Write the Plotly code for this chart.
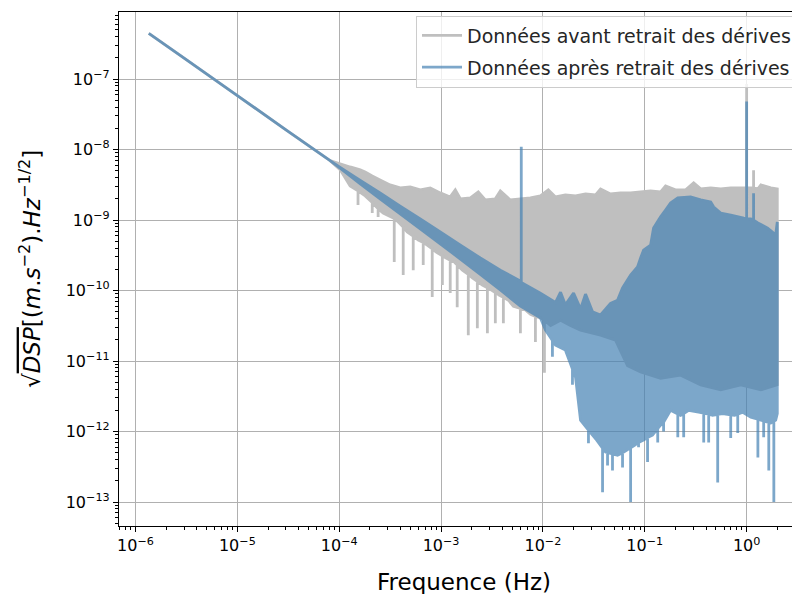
import plotly.graph_objects as go

# ---------------------------------------------------------------
# Valeurs (fréquence en Hz, racine de DSP)
# ---------------------------------------------------------------

# partie basse fréquence en 1/f, commune aux deux séries
freq_bf = [1.35e-6, 3e-6, 1e-5, 3e-5, 8.14e-5]
asd_bf = [4.45e-7, 1.98e-7, 5.83e-8, 1.91e-8, 6.98e-9]

# --- avant retrait des dérives (gris)
gris_haut_f = [1.02e-4, 1.28e-4, 1.61e-4, 1.80e-4, 2.11e-4, 2.52e-4, 3.16e-4, 3.97e-4,
               4.98e-4, 6.25e-4, 7.83e-4, 9.82e-4, 1.23e-3, 1.38e-3, 1.55e-3, 1.94e-3,
               2.32e-3, 2.72e-3, 3.41e-3, 3.82e-3, 4.79e-3, 6.01e-3, 7.54e-3, 9.45e-3,
               1.13e-2, 1.33e-2, 1.66e-2, 2.09e-2, 2.62e-2, 3.29e-2, 3.68e-2, 4.61e-2,
               5.78e-2, 7.26e-2, 9.10e-2, 0.114, 0.143, 0.160, 0.200, 0.252, 0.302,
               0.354, 0.444, 0.557, 0.698, 0.938, 1.10, 1.29, 1.38, 1.73, 2.0]
gris_haut = [6.3e-9, 5.67e-9, 5.15e-9, 4.82e-9, 4.23e-9, 3.71e-9, 3.15e-9, 2.86e-9,
             2.95e-9, 2.68e-9, 2.86e-9, 2.43e-9, 2.13e-9, 2.68e-9, 2.0e-9, 2.06e-9,
             2.51e-9, 1.93e-9, 2.0e-9, 2.59e-9, 1.93e-9, 2.0e-9, 2.06e-9, 2.2e-9,
             2.68e-9, 2.13e-9, 2.28e-9, 2.2e-9, 2.35e-9, 2.28e-9, 2.77e-9, 2.35e-9,
             2.43e-9, 2.43e-9, 2.51e-9, 2.59e-9, 2.51e-9, 3.05e-9, 2.68e-9, 2.68e-9, 3.37e-9,
             2.77e-9, 2.86e-9, 2.77e-9, 2.86e-9, 2.86e-9, 2.86e-9, 2.77e-9, 3.15e-9, 2.86e-9, 2.77e-9]
gris_bas_f = [1.02e-4, 1.28e-4, 1.80e-4, 2.70e-4, 3.80e-4, 4.65e-4, 5.97e-4, 7.31e-4,
              8.97e-4, 1.12e-3, 1.35e-3, 1.62e-3, 2.03e-3, 2.54e-3, 3.12e-3, 3.74e-3,
              4.58e-3, 5.13e-3, 6.73e-3, 7.54e-3, 9.45e-3, 1.19e-2, 1.49e-2, 1.86e-2,
              2.34e-2, 3.68e-2, 5.16e-2, 6.77e-2, 9.10e-2, 0.143, 0.225, 0.354, 0.557,
              0.876, 1.38, 2.0]
gris_bas = [5.2e-9, 3.05e-9, 2.2e-9, 1.26e-9, 9.4e-10, 6.8e-10, 5.2e-10, 4.4e-10,
            3.52e-10, 2.9e-10, 2.54e-10, 1.95e-10, 1.51e-10, 1.2e-10, 1.02e-10, 8.6e-11,
            7.3e-11, 6.0e-11, 5.3e-11, 4.6e-11, 4.1e-11, 3.2e-11, 3.8e-11, 3.2e-11,
            2.75e-11, 2.33e-11, 1.98e-11, 8.6e-12, 7.0e-12, 5.7e-12, 6.3e-12, 4.6e-12, 3.9e-12,
            4.6e-12, 3.9e-12, 4.6e-12]
# raies vers le haut
gris_raies_f = [1.0, 1.17]
gris_raies_base = [2.86e-9, 2.86e-9]
gris_raies_sommet = [8.5e-8, 5.1e-9]
# pics vers le bas
gris_pics_f = [1.53e-4, 2.11e-4, 2.41e-4, 3.47e-4, 4.25e-4, 5.33e-4, 6.68e-4, 8.19e-4,
               1.03e-3, 1.23e-3, 1.44e-3, 1.85e-3, 2.27e-3, 2.85e-3, 3.41e-3, 4.09e-3,
               6.01e-3, 8.44e-3, 1.035e-2]
gris_pics_depart = [2.6e-9, 1.77e-9, 1.45e-9, 1.05e-9, 8.0e-10, 5.9e-10, 4.8e-10, 3.9e-10,
                    3.1e-10, 2.7e-10, 2.3e-10, 1.7e-10, 1.35e-10, 1.1e-10, 9.4e-11, 8.0e-11,
                    5.6e-11, 4.3e-11, 3.8e-11]
gris_pics_fond = [1.64e-9, 1.26e-9, 1.11e-9, 2.54e-10, 1.66e-10, 1.95e-10, 2.3e-10, 8.1e-11,
                  1.2e-10, 9.2e-11, 5.8e-11, 2.33e-11, 2.93e-11, 2.49e-11, 3.45e-11, 3.45e-11,
                  2.49e-11, 1.86e-11, 6.8e-12]

# --- après retrait des dérives (bleu)
bleu_haut_f = [1.02e-4, 1.61e-4, 2.52e-4, 3.97e-4, 6.25e-4, 9.82e-4, 1.55e-3, 2.43e-3,
               3.82e-3, 6.01e-3, 9.45e-3, 1.33e-2, 1.49e-2, 1.66e-2, 2.0e-2, 2.34e-2,
               2.62e-2, 3.07e-2, 3.68e-2, 4.61e-2, 5.40e-2, 6.05e-2, 7.26e-2, 8.49e-2,
               9.10e-2, 9.73e-2, 0.114, 0.122, 0.143, 0.160, 0.179, 0.211, 0.282, 0.354,
               0.444, 0.475, 0.557, 0.698, 0.938, 1.10, 1.29, 1.61, 1.93, 2.0]
bleu_haut = [5.6e-9, 3.65e-9, 2.43e-9, 1.58e-9, 1.04e-9, 6.8e-10, 4.4e-10, 2.9e-10,
             1.95e-10, 1.36e-10, 9.2e-11, 6.8e-11, 9.5e-11, 6.3e-11, 9.2e-11, 5.5e-11,
             8.9e-11, 5.0e-11, 4.5e-11, 6.6e-11, 7.3e-11, 1.09e-10, 1.66e-10, 2.16e-10,
             2.9e-10, 3.76e-10, 4.4e-10, 7.7e-10, 1.11e-9, 1.39e-9, 1.75e-9, 2.06e-9, 2.13e-9, 1.93e-9,
             1.81e-9, 1.53e-9, 1.26e-9, 1.18e-9, 1.07e-9, 1.04e-9, 9.1e-10, 7.7e-10, 6.2e-10, 9.4e-10]
bleu_bas_f = [1.02e-4, 1.61e-4, 2.52e-4, 3.97e-4, 6.25e-4, 9.82e-4, 1.55e-3, 2.43e-3,
              3.82e-3, 6.01e-3, 9.45e-3, 1.06e-2, 1.33e-2, 1.66e-2, 2.09e-2, 2.34e-2,
              3.07e-2, 3.36e-2, 4.12e-2, 5.40e-2, 6.62e-2, 7.94e-2, 9.73e-2, 0.119,
              0.143, 0.179, 0.225, 0.270, 0.338, 0.464, 0.582, 0.764, 0.917, 1.10,
              1.38, 1.73, 1.93, 2.0]
bleu_bas = [5.45e-9, 3.26e-9, 2.0e-9, 1.22e-9, 7.5e-10, 4.6e-10, 2.8e-10, 1.7e-10,
            1.02e-10, 6.0e-11, 4.1e-11, 2.75e-11, 1.68e-11, 1.43e-11, 5.9e-12, 1.45e-12,
            8.9e-13, 7.6e-13, 5.1e-13, 4.6e-13, 5.4e-13, 6.4e-13, 7.6e-13, 8.9e-13,
            1.23e-12, 2.0e-12, 1.7e-12, 2.0e-12, 1.88e-12, 1.7e-12, 1.8e-12, 1.7e-12, 1.88e-12, 1.6e-12,
            1.45e-12, 1.32e-12, 1.45e-12, 1.8e-12]
bleu_raies_f = [6.13e-3, 1.0, 1.17]
bleu_raies_base = [1.3e-10, 1.05e-9, 1.0e-9]
bleu_raies_sommet = [1.1e-8, 4.8e-8, 2.4e-9]
bleu_pics_f = [1.24e-2, 1.95e-2, 2.80e-2, 3.85e-2, 4.31e-2, 4.82e-2, 6.05e-2, 7.26e-2,
               8.69e-2, 0.1065, 0.134, 0.153, 0.211, 0.241, 0.379, 0.424, 0.520, 0.698,
               0.818, 1.29, 1.47, 1.65, 1.85]
bleu_pics_depart = [1.96e-11, 7.7e-12, 1.05e-12, 5.8e-13, 5.0e-13, 4.8e-13, 5.0e-13, 5.9e-13,
                    7.0e-13, 8.2e-13, 1.1e-12, 1.35e-12, 1.78e-12, 1.8e-12, 1.82e-12, 1.76e-12,
                    1.75e-12, 1.73e-12, 1.77e-12, 1.5e-12, 1.41e-12, 1.35e-12, 1.4e-12]
bleu_pics_fond = [1.15e-11, 4.6e-12, 6.8e-13, 1.38e-13, 3.3e-13, 2.8e-13, 3.1e-13, 1.0e-13,
                  6.0e-13, 3.7e-13, 7.0e-13, 1.0e-12, 8.3e-13, 8.3e-13, 7.0e-13, 7.0e-13,
                  1.9e-13, 8.1e-13, 9.5e-13, 4.3e-13, 8.3e-13, 2.8e-13, 1.0e-13]

# axes
xticks_val = [1e-6, 1e-5, 1e-4, 1e-3, 1e-2, 1e-1, 1]
xticks_txt = ["10<sup>−6</sup>", "10<sup>−5</sup>", "10<sup>−4</sup>", "10<sup>−3</sup>",
              "10<sup>−2</sup>", "10<sup>−1</sup>", "10<sup>0</sup>"]
yticks_val = [1e-13, 1e-12, 1e-11, 1e-10, 1e-9, 1e-8, 1e-7]
yticks_txt = ["10<sup>−13</sup>", "10<sup>−12</sup>", "10<sup>−11</sup>", "10<sup>−10</sup>",
              "10<sup>−9</sup>", "10<sup>−8</sup>", "10<sup>−7</sup>"]

GRIS = "#bfbfbf"
BLEU = "steelblue"
LW = 2.8


def bord(f_env, v_env, f_traits, v_depart, v_bout):
    """Enveloppe + traits verticaux (raies ou pics), triés en fréquence."""
    pts = list(zip(f_env, v_env))
    for f, a, b in zip(f_traits, v_depart, v_bout):
        pts += [(f, a), (f, b), (f, a)]
    pts.sort(key=lambda p: p[0])
    return [p[0] for p in pts], [p[1] for p in pts]


def serie(haut_f, haut, raies, bas_f, bas, pics, couleur, opacite):
    hf, hv = bord(haut_f, haut, *raies)
    bf, bv = bord(bas_f, bas, *pics)
    x = freq_bf + hf + bf[::-1] + freq_bf[::-1]
    y = asd_bf + hv + bv[::-1] + asd_bf[::-1]
    return go.Scatter(
        x=x, y=y, mode="lines", fill="toself", fillcolor=couleur,
        line=dict(color=couleur, width=LW, simplify=False),
        opacity=opacite, showlegend=False, hoverinfo="skip",
    )


fig = go.Figure()
fig.add_trace(serie(gris_haut_f, gris_haut,
                    (gris_raies_f, gris_raies_base, gris_raies_sommet),
                    gris_bas_f, gris_bas,
                    (gris_pics_f, gris_pics_depart, gris_pics_fond),
                    GRIS, 1.0))
fig.add_trace(serie(bleu_haut_f, bleu_haut,
                    (bleu_raies_f, bleu_raies_base, bleu_raies_sommet),
                    bleu_bas_f, bleu_bas,
                    (bleu_pics_f, bleu_pics_depart, bleu_pics_fond),
                    BLEU, 0.7))

# entrées de légende
fig.add_trace(go.Scatter(x=[None], y=[None], mode="lines", legendgroup="a",
                         line=dict(color=GRIS, width=LW),
                         name="Données avant retrait des dérives"))
fig.add_trace(go.Scatter(x=[None], y=[None], mode="lines", legendgroup="b",
                         line=dict(color="rgba(70,130,180,0.7)", width=LW),
                         name="Données après retrait des dérives"))

axe = dict(
    type="log", showgrid=True, gridcolor="#b0b0b0", gridwidth=1.3,
    ticks="outside", ticklen=5, tickwidth=1.3, tickcolor="black",
    showline=True, linecolor="black", linewidth=1.3, automargin=False,
    tickfont=dict(family="DejaVu Sans", size=16, color="black"),
    tickmode="array", zeroline=False,
    minor=dict(ticks="outside", ticklen=3, tickwidth=1, tickcolor="black",
               dtick="D1", showgrid=False),
)

# la page ajoute une marge de 8 px : figure de 792 x 586 pour remplir 800 x 594
fig.update_layout(
    width=792, height=586,
    margin=dict(l=111, r=0, t=4, b=68),
    paper_bgcolor="white", plot_bgcolor="white",
    font=dict(family="DejaVu Sans", size=16, color="black"),
    xaxis=dict(axe, range=[-6.162, 0.524], tickvals=xticks_val, ticktext=xticks_txt, mirror=True),
    yaxis=dict(axe, range=[-13.34, -6.048], tickvals=yticks_val, ticktext=yticks_txt),
    legend=dict(x=0.9956, xanchor="right", y=0.993, yanchor="top",
                bgcolor="rgba(255,255,255,0.8)", bordercolor="#cccccc", borderwidth=1,
                font=dict(family="DejaVu Sans", size=19, color="#262626"),
                itemwidth=40, tracegroupgap=4),
    annotations=[
        dict(text="Frequence (Hz)", xref="paper", yref="paper", x=0.5059, y=-0.109,
             xanchor="center", yanchor="middle", showarrow=False,
             font=dict(family="DejaVu Sans", size=23, color="black")),
        dict(text="√<span style='text-decoration:overline'><i>DSP</i></span>[(<i>m</i>.<i>s</i>"
                  "<sup>−2</sup>).<i>Hz</i><sup>−1/2</sup>]",
             xref="paper", yref="paper", x=-0.1307, y=0.5, textangle=-90,
             xanchor="center", yanchor="middle", showarrow=False,
             font=dict(family="DejaVu Sans", size=23, color="black")),
    ],
)

fig.write_html("out.html")
